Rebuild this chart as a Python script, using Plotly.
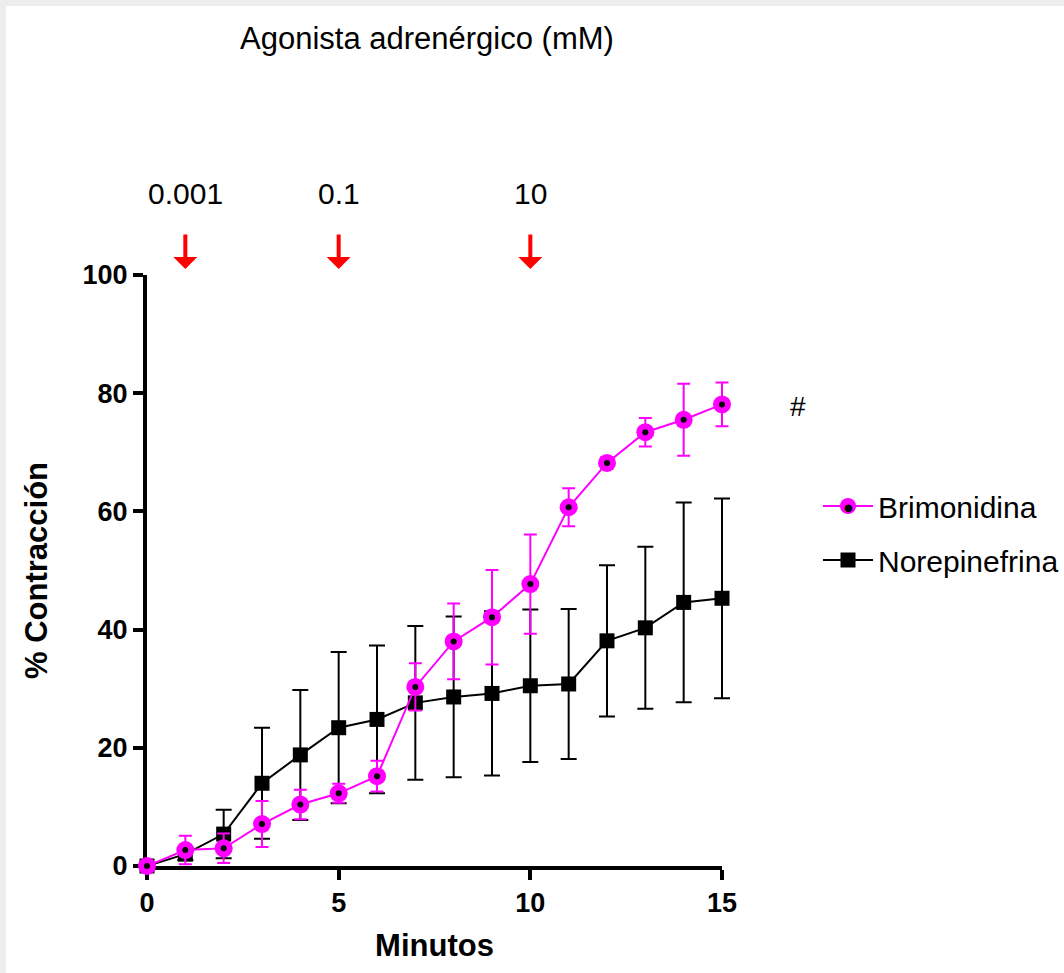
import plotly.graph_objects as go

# ---- data ----
minutes = list(range(16))
brimonidina = [0, 2.7, 3.0, 7.1, 10.4, 12.3, 15.2, 30.3, 38.0, 42.1, 47.7, 60.7, 68.2, 73.4, 75.5, 78.1]
brimonidina_err = [0, 2.4, 2.5, 3.9, 2.5, 1.6, 2.6, 4.0, 6.4, 8.0, 8.4, 3.2, 1.0, 2.4, 6.1, 3.7]
norepinefrina = [0, 2.0, 5.4, 14.0, 18.8, 23.4, 24.8, 27.6, 28.6, 29.2, 30.5, 30.8, 38.1, 40.3, 44.6, 45.3]
norepinefrina_err = [0, 1.0, 4.1, 9.4, 11.0, 12.8, 12.5, 13.0, 13.6, 13.9, 12.9, 12.7, 12.8, 13.7, 16.9, 16.9]

dose_minutes = [1, 5, 10]
dose_labels = ["0.001", "0.1", "10"]
x_ticks = [0, 5, 10, 15]
y_ticks = [0, 20, 40, 60, 80, 100]
x_range = [0, 15]
y_range = [0, 100]

# ---- layout geometry ----
W, H = 1064, 973
AX_L, AX_R = 147, 722          # pixel extent of the visible x axis
EXTRA = 19                     # room for error-bar caps beyond the last point
ML, MR, MT, MB = AX_L, 0, 275, 107
PW, PH = W - ML - MR, H - MT - MB
FONT = "Liberation Sans, Arial, sans-serif"
MAGENTA = "#FF00FF"

x_dom_end = (AX_R - AX_L) / PW
x2_dom_end = (AX_R + EXTRA - AX_L) / PW
x2_max = x_range[1] * (AX_R + EXTRA - AX_L) / (AX_R - AX_L)


def px_x(p):
    return (p - ML) / PW


def px_y(p):
    return (H - MB - p) / PH


fig = go.Figure()

fig.add_trace(go.Scatter(
    x=minutes, y=norepinefrina, name="Norepinefrina", mode="lines+markers",
    xaxis="x2", yaxis="y",
    line=dict(color="black", width=2),
    marker=dict(symbol="square", size=15, color="black"),
    error_y=dict(type="data", array=norepinefrina_err, visible=True,
                 color="black", thickness=2, width=8),
    cliponaxis=False, legendgroup="b", legendrank=2,
))
fig.add_trace(go.Scatter(
    x=minutes, y=brimonidina, name="Brimonidina", mode="lines+markers",
    xaxis="x2", yaxis="y",
    line=dict(color=MAGENTA, width=2),
    marker=dict(symbol="circle", size=18, color=MAGENTA),
    error_y=dict(type="data", array=brimonidina_err, visible=True,
                 color=MAGENTA, thickness=2, width=6.5),
    cliponaxis=False, legendgroup="a", legendrank=1,
))
fig.add_trace(go.Scatter(
    x=minutes, y=brimonidina, mode="markers", showlegend=False, hoverinfo="skip",
    xaxis="x2", yaxis="y",
    marker=dict(symbol="circle", size=6, color="black"), cliponaxis=False,
))

annotations = []
annotations.append(dict(
    text="Agonista adrenérgico (mM)", xref="paper", yref="paper",
    x=px_x(427), y=px_y(38), showarrow=False, xanchor="center", yanchor="middle",
    font=dict(family=FONT, size=31, color="black"),
))
for xm, lab in zip(dose_minutes, dose_labels):
    annotations.append(dict(
        text=lab, xref="x", yref="paper", x=xm, y=px_y(194), showarrow=False,
        xanchor="center", yanchor="middle",
        font=dict(family=FONT, size=30, color="black"),
    ))
    annotations.append(dict(
        text="", xref="x", yref="paper", x=xm, y=px_y(269), showarrow=True,
        ax=0, ay=-36, arrowhead=1, arrowsize=1.0, arrowwidth=4, arrowcolor="#FF0000",
    ))
annotations.append(dict(
    text="#", xref="paper", yref="paper", x=px_x(798), y=px_y(406), showarrow=False,
    xanchor="center", yanchor="middle", font=dict(family=FONT, size=28, color="black"),
))
# centre dot of the Brimonidina legend symbol
annotations.append(dict(
    text="●", xref="paper", yref="paper", x=px_x(848), y=px_y(507), showarrow=False,
    xanchor="center", yanchor="middle",
    font=dict(family="DejaVu Sans", size=10, color="black"),
))

shapes = [
    dict(type="rect", xref="paper", yref="paper", x0=px_x(0), x1=px_x(6), y0=px_y(H), y1=px_y(0),
         fillcolor="#ededed", line=dict(width=0), layer="below"),
    dict(type="rect", xref="paper", yref="paper", x0=px_x(0), x1=px_x(W), y0=px_y(6), y1=px_y(0),
         fillcolor="#ededed", line=dict(width=0), layer="below"),
]

tickfont = dict(family=FONT, size=27, color="black", weight="bold")
fig.update_layout(
    width=W, height=H,
    margin=dict(l=ML, r=MR, t=MT, b=MB, pad=0),
    paper_bgcolor="white", plot_bgcolor="white",
    font=dict(family=FONT, color="black"),
    showlegend=True,
    legend=dict(
        x=1.0, y=px_y(480), xanchor="right", yanchor="top",
        traceorder="grouped", tracegroupgap=12, itemwidth=50,
        font=dict(family=FONT, size=30, color="black"),
        bgcolor="rgba(0,0,0,0)",
    ),
    xaxis=dict(
        domain=[0, x_dom_end], anchor="y",
        range=x_range, tickvals=x_ticks, ticks="outside", ticklen=10, tickwidth=4,
        tickcolor="black", showline=True, linewidth=4, linecolor="black",
        showgrid=False, zeroline=False, automargin=False,
        tickfont=tickfont,
        title=dict(text="<b>Minutos</b>", standoff=18,
                   font=dict(family=FONT, size=31, color="black")),
    ),
    xaxis2=dict(
        domain=[0, x2_dom_end], anchor="y", range=[0, x2_max], visible=False,
        showgrid=False, zeroline=False,
    ),
    yaxis=dict(
        anchor="x",
        range=y_range, tickvals=y_ticks, ticks="outside", ticklen=10, tickwidth=4,
        tickcolor="black", showline=True, linewidth=4, linecolor="black",
        showgrid=False, zeroline=False, automargin=False,
        tickfont=tickfont,
        title=dict(text="<b>% Contracción</b>", standoff=27,
                   font=dict(family=FONT, size=31, color="black")),
    ),
    annotations=annotations,
    shapes=shapes,
)

fig.write_html("out.html")
